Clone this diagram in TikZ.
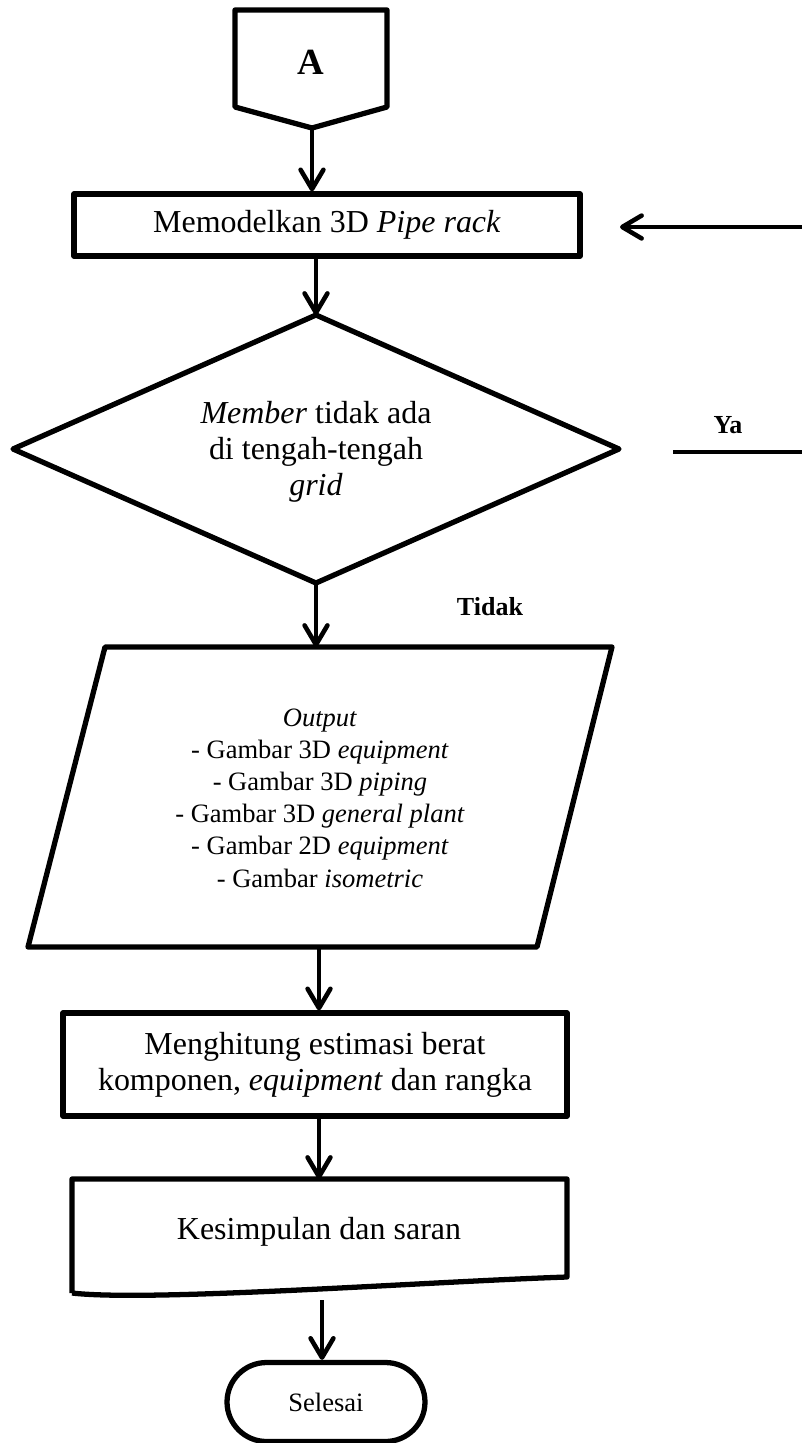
\documentclass[tikz,border=0pt]{standalone}
\usepackage{fontspec}
\setmainfont{Liberation Serif}
\usetikzlibrary{arrows.meta,shapes.misc}
\begin{document}
\begin{tikzpicture}[x=0.02cm,y=-0.02cm,
  outline/.style={draw,line width=3pt,line join=round},
  arr/.style={line width=2.6pt,-{Straight Barb[length=11pt,width=13pt,line cap=round,line join=round]}},
  ln/.style={line width=2.6pt},
  txtbig/.style={font=\fontsize{18.2}{20.5}\selectfont,align=center,inner sep=0pt},
  txtsmall/.style={font=\fontsize{15.1}{18.3}\selectfont,align=center,inner sep=0pt},
  lbl/.style={font=\fontsize{14.8}{17}\selectfont\bfseries,inner sep=0pt}]
\useasboundingbox (0,0) rectangle (801,1443);

% off-page connector A
\draw[outline] (235,10) -- (387,10) -- (387,107) -- (312,128) -- (235,107) -- cycle;
\coordinate (Abot) at (312,128);
\node[font=\fontsize{21}{24}\selectfont\bfseries,inner sep=0pt] (A) at (311,62) {A};

% box 1
\node[outline,minimum width=10.12cm,minimum height=1.24cm,txtbig] (b1) at (327,225) {Memodelkan 3D \textit{Pipe rack}};
\draw[arr] (Abot) -- (Abot |- b1.north);

% decision
\coordinate (dT) at (316,315);
\coordinate (dR) at (619,449);
\coordinate (dB) at (316,583);
\coordinate (dL) at (13,449);
\draw[outline] (dT) -- (dR) -- (dB) -- (dL) -- cycle;
\node[txtbig] (dec) at (316,452) {\textit{Member} tidak ada\\di tengah-tengah\\\textit{grid}};
\draw[arr] (dT |- b1.south) -- (dT);

% parallelogram
\coordinate (pTL) at (105,647);
\coordinate (pTR) at (612,647);
\coordinate (pBR) at (537,947);
\coordinate (pBL) at (28,947);
\coordinate (pT) at (316,647);
\coordinate (pB) at (319,947);
\draw[outline] (pTL) -- (pTR) -- (pBR) -- (pBL) -- cycle;
\node[txtsmall] (out) at (320,798) {\textit{Output}\\- Gambar 3D \textit{equipment}\\- Gambar 3D \textit{piping}\\- Gambar 3D \textit{general plant}\\- Gambar 2D \textit{equipment}\\- Gambar \textit{isometric}};
\draw[arr] (dB) -- (pT);
\node[lbl] (tidak) at (490,607) {Tidak};

% loop Ya
\node[lbl] (ya) at (728,425) {Ya};
\coordinate (yaS) at (673,452);
\coordinate (yaC1) at (804,452);
\coordinate (yaC2) at (804,227);
\coordinate (loopTip) at (620,227);
\draw[ln] (yaS) -- (yaC1) -- (yaC2);
\draw[arr] (yaC2) -- (loopTip);

% box 3
\node[outline,minimum width=10.08cm,minimum height=2.06cm,txtbig] (b3) at (315,1064.5) {Menghitung estimasi berat\\komponen, \textit{equipment} dan rangka};
\draw[arr] (pB) -- (pB |- b3.north);

% document shape
\coordinate (kTL) at (72,1179);
\coordinate (kTR) at (567,1179);
\coordinate (kBR) at (567,1277);
\coordinate (kBL) at (72,1293);
\draw[outline] (kBL) -- (kTL) -- (kTR) -- (kBR) .. controls (420,1282) and (150,1302) .. (kBL);
\node[txtbig] (kes) at (319,1232) {Kesimpulan dan saran};
\draw[arr] (b3.south -| kes) -- (kes |- kTL);

% terminal
\node[outline,rounded rectangle,minimum width=3.96cm,minimum height=1.58cm,txtsmall] (end) at (326,1402) {Selesai};
\coordinate (kwave) at (322,1300);
\draw[arr] (kwave) -- (kwave |- end.north);
\end{tikzpicture}
\end{document}
